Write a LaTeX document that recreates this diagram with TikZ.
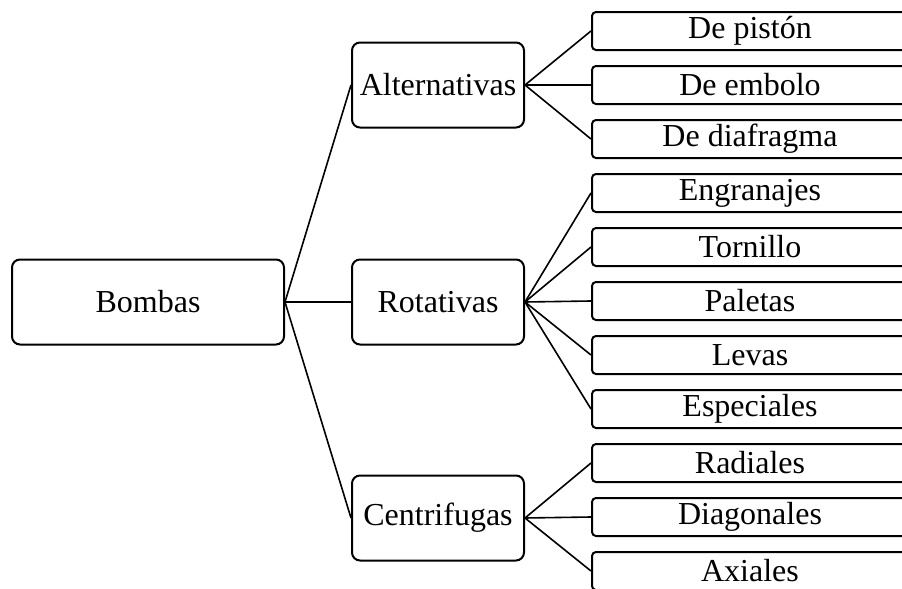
\documentclass[tikz,border=0pt]{standalone}
\usepackage{fontspec}
\setmainfont{Liberation Serif}

\tikzset{
    rootbox/.style={draw, line width=1pt, rounded corners=4pt, inner sep=0pt,
        minimum width=136pt, minimum height=42.5pt},
    midbox/.style={draw, line width=1pt, rounded corners=4pt, inner sep=0pt,
        minimum width=86pt, minimum height=42.5pt},
    leafbox/.style={draw, line width=1pt, rounded corners=2pt, inner sep=0pt,
        minimum width=158pt, minimum height=19pt},
    link/.style={line width=0.8pt}
}

\begin{document}
\begin{tikzpicture}[x=0.5pt, y=-0.5pt, font=\fontsize{16}{19}\selectfont]

    \useasboundingbox (0,0) rectangle (902,589);

    % Root
    \node[rootbox] (bombas) at (148,302) {Bombas};

    % Second level
    \node[midbox] (alt) at (438,85) {Alternativas};
    \node[midbox] (rot) at (438,302) {Rotativas};
    \node[midbox] (cen) at (438,518) {Centrifugas};

    % Leaves
    \foreach \t [count=\i from 0] in {De pistón, De embolo, De diafragma,
            Engranajes, Tornillo, Paletas, Levas, Especiales,
            Radiales, Diagonales, Axiales}
        \node[leafbox] (leaf\i) at (750,{31+54*\i}) {\t};

    % Root to second level
    \foreach \m in {alt, rot, cen}
        \draw[link] (bombas.east) -- (\m.west);

    % Second level to leaves
    \foreach \i in {0,1,2}
        \draw[link] (alt.east) -- (leaf\i.west);
    \foreach \i in {3,...,7}
        \draw[link] (rot.east) -- (leaf\i.west);
    \foreach \i in {8,9,10}
        \draw[link] (cen.east) -- (leaf\i.west);

\end{tikzpicture}
\end{document}
